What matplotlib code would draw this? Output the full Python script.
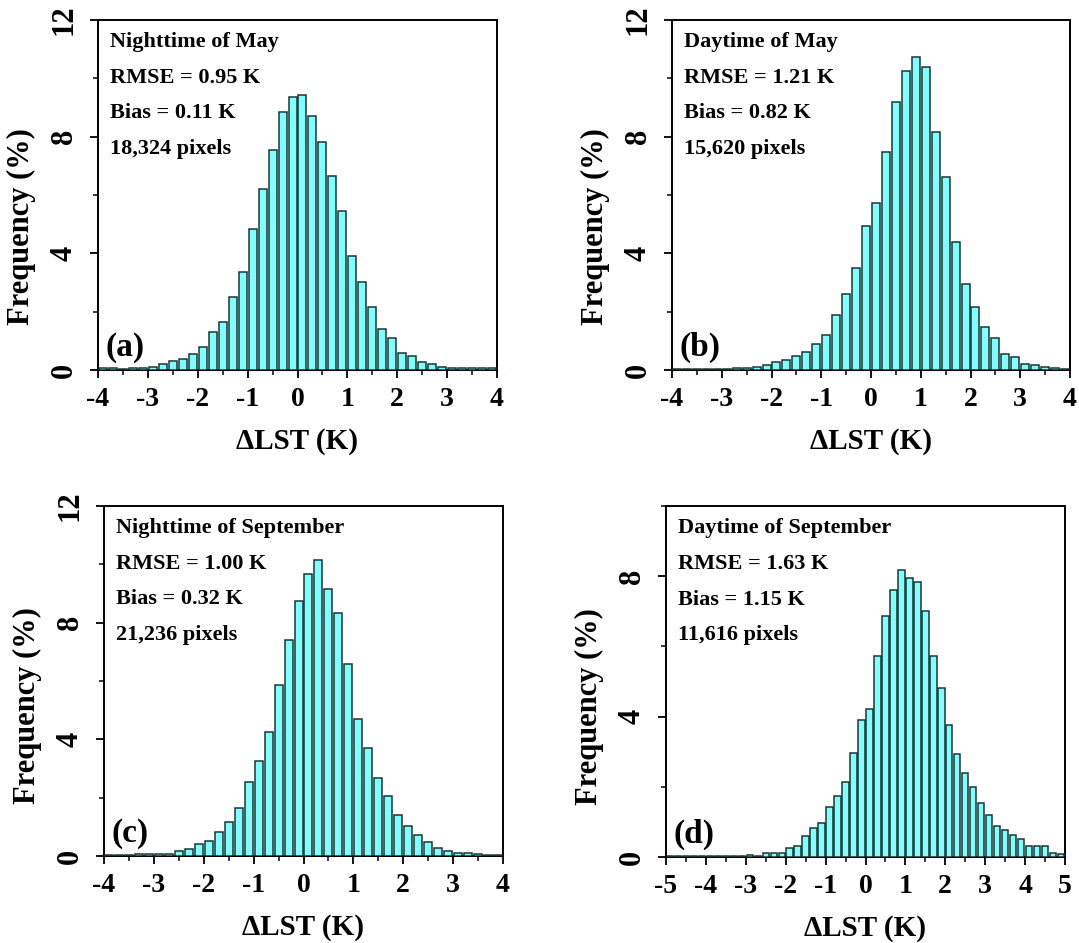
import numpy as np
import matplotlib
matplotlib.use("Agg")
import matplotlib.pyplot as plt
from matplotlib.ticker import MultipleLocator

plt.rcParams['font.family'] = ['Liberation Serif', 'DejaVu Serif']
plt.rcParams['font.weight'] = 'bold'
plt.rcParams['axes.unicode_minus'] = False

# ---- data (frequency %, bins of 0.2 K) ----
bin_width = 0.2

a_start = -4.0
a_freq = [0.07, 0.07, 0.05, 0.07, 0.08, 0.11, 0.21, 0.30, 0.37, 0.54,
          0.78, 1.31, 1.66, 2.51, 3.35, 4.83, 6.22, 7.53, 8.83, 9.37,
          9.43, 8.72, 7.81, 6.66, 5.45, 3.91, 3.01, 2.16, 1.41, 1.09,
          0.57, 0.49, 0.27, 0.19, 0.09, 0.07, 0.08, 0.07, 0.07, 0.07]

b_start = -4.0
b_freq = [0.02, 0.03, 0.04, 0.05, 0.05, 0.04, 0.07, 0.08, 0.11, 0.16,
          0.26, 0.34, 0.47, 0.61, 0.90, 1.21, 1.90, 2.62, 3.51, 4.95,
          5.74, 7.49, 9.18, 10.24, 10.74, 10.39, 8.16, 6.61, 4.38, 2.96,
          2.15, 1.46, 1.11, 0.54, 0.46, 0.19, 0.18, 0.09, 0.06, 0.04]

c_start = -4.0
c_freq = [0.03, 0.03, 0.04, 0.07, 0.06, 0.08, 0.07, 0.17, 0.23, 0.40,
          0.51, 0.84, 1.18, 1.64, 2.53, 3.27, 4.25, 5.85, 7.41, 8.73,
          9.67, 10.16, 9.16, 8.33, 6.57, 4.71, 3.72, 2.69, 2.07, 1.42,
          1.03, 0.73, 0.49, 0.29, 0.18, 0.10, 0.09, 0.07, 0.05, 0.05]

d_start = -5.0
d_freq = [0.02, 0.02, 0.02, 0.02, 0.02, 0.02, 0.02, 0.02, 0.03, 0.03,
          0.06, 0.04, 0.12, 0.12, 0.12, 0.25, 0.32, 0.60, 0.84, 0.98,
          1.43, 1.73, 2.14, 2.97, 3.90, 4.22, 5.73, 6.86, 7.62, 8.19,
          7.94, 7.84, 7.00, 5.73, 4.81, 3.75, 2.94, 2.40, 2.00, 1.55,
          1.20, 0.88, 0.77, 0.63, 0.51, 0.31, 0.31, 0.30, 0.12, 0.08]

titles = ["Nighttime of May", "Daytime of May",
          "Nighttime of September", "Daytime of September"]
rmse = ["0.95", "1.21", "1.00", "1.63"]
bias = ["0.11", "0.82", "0.32", "1.15"]
pixels = ["18,324", "15,620", "21,236", "11,616"]
panel_labels = ["(a)", "(b)", "(c)", "(d)"]
xlims = [(-4, 4), (-4, 4), (-4, 4), (-5, 5)]
ylims = [(0, 12), (0, 12), (0, 12), (0, 10)]

starts = [a_start, b_start, c_start, d_start]
freqs = [a_freq, b_freq, c_freq, d_freq]

W, H = 1079, 943
fig = plt.figure(figsize=(W / 100, H / 100), dpi=100)

# axes boxes in pixels: left, top, right, bottom
boxes = [(98, 20, 497, 370), (672, 20, 1070, 370),
         (104, 506, 503, 856), (666, 506, 1065, 857)]
ylabel_y = [0.41, 0.41, 0.43, 0.43]

for i in range(4):
    l, t, r, b = boxes[i]
    ax = fig.add_axes([l / W, (H - b) / H, (r - l) / W, (b - t) / H])
    f = np.array(freqs[i])
    centers = starts[i] + bin_width * (np.arange(len(f)) + 0.5)
    ax.bar(centers, f, width=0.16, color='#80ffff', edgecolor='#1c3434',
           linewidth=1.1, zorder=3)
    ax.set_xlim(*xlims[i])
    ax.set_ylim(*ylims[i])
    ax.xaxis.set_major_locator(MultipleLocator(1))
    ax.xaxis.set_minor_locator(MultipleLocator(0.5))
    ax.yaxis.set_major_locator(MultipleLocator(4))
    ax.yaxis.set_minor_locator(MultipleLocator(2))
    ax.tick_params(which='major', direction='out', length=6, width=1.3,
                   top=False, right=False)
    ax.tick_params(which='minor', direction='out', length=3.5, width=1.1,
                   top=False, right=False)
    ax.tick_params(axis='x', which='major', pad=6, labelsize=20)
    ax.tick_params(axis='y', which='major', pad=8, labelsize=22)
    for lab in ax.get_yticklabels():
        lab.set_rotation(90)
        lab.set_va('center')
    for sp in ax.spines.values():
        sp.set_linewidth(1.4)
    ax.set_xlabel("ΔLST (K)", fontsize=21, fontweight='bold', labelpad=12)
    ax.set_ylabel("Frequency (%)", fontsize=22, fontweight='bold')
    ax.yaxis.set_label_coords(-0.155, ylabel_y[i])

    lines = [titles[i], "RMSE = %s K" % rmse[i], "Bias = %s K" % bias[i],
             "%s pixels" % pixels[i]]
    for k, txt in enumerate(lines):
        ax.text(0.03, 0.922 - k * 0.1015, txt, transform=ax.transAxes,
                fontsize=16, fontweight='bold', ha='left', va='baseline')
    ax.text(0.018, 0.04, panel_labels[i], transform=ax.transAxes,
            fontsize=24, fontweight='bold', ha='left', va='baseline')

fig.savefig("out.png", dpi=100)
